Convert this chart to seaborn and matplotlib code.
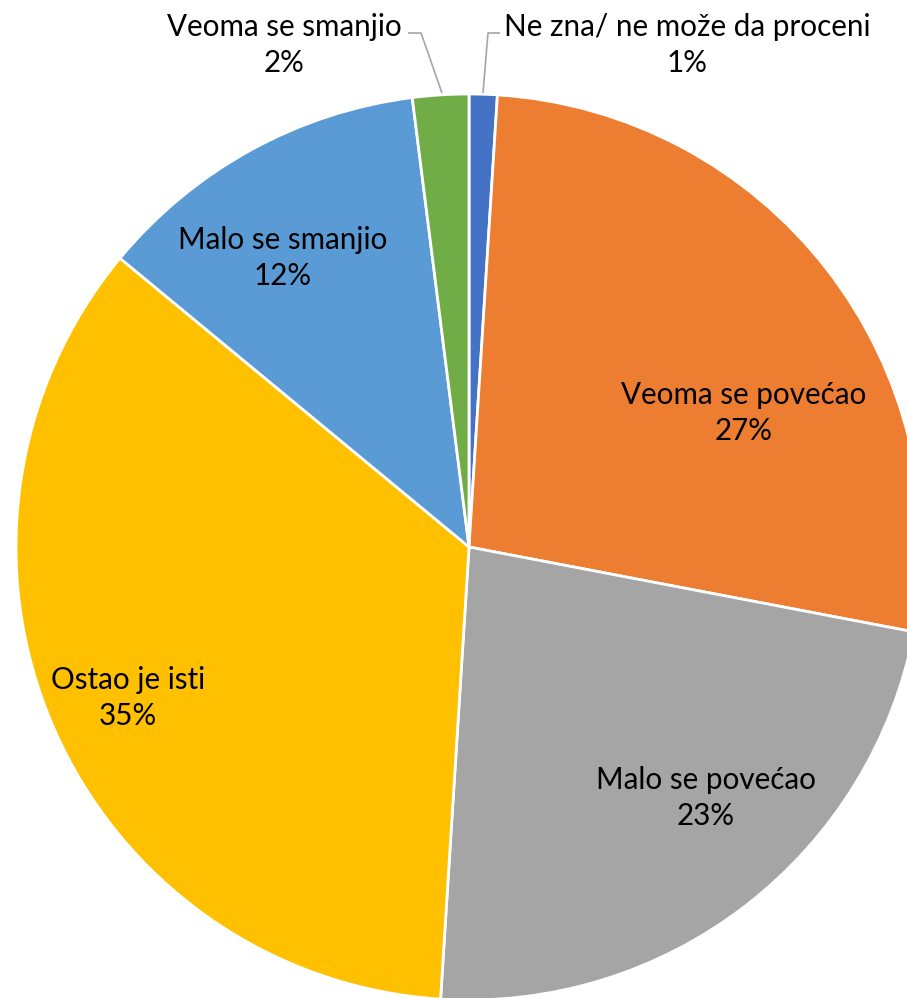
import numpy as np
import seaborn as sns
import matplotlib.pyplot as plt

# answers in chart order, clockwise from 12 o'clock
labels = ["Ne zna/ ne može da proceni", "Veoma se povećao", "Malo se povećao",
          "Ostao je isti", "Malo se smanjio", "Veoma se smanjio"]
shares = [1, 27, 23, 35, 12, 2]
colors = ["#4472C4", "#ED7D31", "#A5A5A5", "#FFC000", "#5B9BD5", "#70AD47"]

sns.set_style("white")
plt.rcParams['font.family'] = ['Lato', 'DejaVu Sans']

W, H = 907, 998
CX, CY, R = 469, 547, 453


def px(x, y):
    """pixel position in the picture -> data coords (pie radius = 1)"""
    return (x - CX) / R, (CY - y) / R


fig = plt.figure(figsize=(W / 100, H / 100), dpi=100)
ax = fig.add_axes([0, 0, 1, 1])

wedges, _ = ax.pie(shares, colors=colors, startangle=90, counterclock=False,
                   radius=1, center=(0, 0),
                   wedgeprops=dict(edgecolor="white", linewidth=2.0))

ax.set_xlim(px(0, 0)[0], px(W, 0)[0])
ax.set_ylim(px(0, H)[1], px(0, 0)[1])
ax.set_aspect("equal")
ax.axis("off")

# label spots as Excel placed them
spots = {
    "Ne zna/ ne može da proceni": (687, 45),
    "Veoma se povećao": (744, 413),
    "Malo se povećao": (706, 798),
    "Ostao je isti": (128, 698),
    "Malo se smanjio": (283, 258),
    "Veoma se smanjio": (284, 45),
}
for lab, val in zip(labels, shares):
    x, y = px(*spots[lab])
    ax.text(x, y, f"{lab}\n{val}%", ha="center", va="center",
            fontsize=21.3, linespacing=1.38, color="black")

# leader lines for the two thin slices
leaders = [[(408, 33), (421, 33), (442, 93)],
           [(500, 33), (488, 33), (483, 93)]]
for pts in leaders:
    xy = np.array([px(*p) for p in pts])
    ax.plot(xy[:, 0], xy[:, 1], color="#A6A6A6", lw=1.2, solid_capstyle="butt")

fig.savefig("out.png", dpi=100)
